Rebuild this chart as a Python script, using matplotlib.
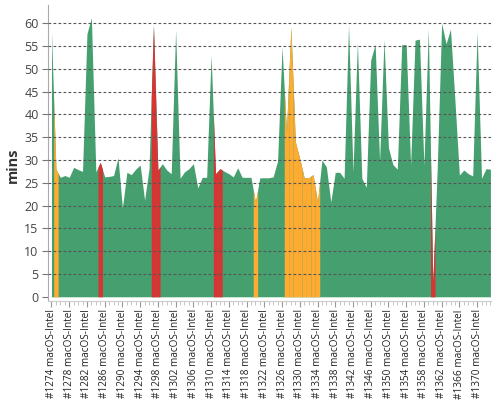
import numpy as np
import matplotlib
matplotlib.use("Agg")
import matplotlib.pyplot as plt

plt.rcParams['font.family'] = ['Open Sans', 'DejaVu Sans']

first_build = 1274
durations = [58, 28, 26.2, 26.6, 26.2, 28.4, 27.9, 27.5, 57.7, 61.2,
             27.4, 29.5, 26.3, 26.4, 26.6, 30.5, 19.5, 27.3, 26.8, 28,
             28.9, 21.2, 28.1, 59.6, 27.8, 29.2, 27.8, 27, 58.5, 26,
             27.4, 28.1, 29.2, 23.9, 26.2, 26.2, 53, 27, 28.1, 27.5,
             27, 26.3, 28.3, 26.2, 26.2, 26.2, 20.8, 26.1, 26.1, 26.1,
             26.3, 29.8, 54.8, 36.2, 59.2, 34, 30.3, 26.1, 26.1, 26.8,
             20.8, 30, 28.5, 20.8, 27.3, 27.3, 26, 59.6, 27.4, 55.8,
             26, 24, 51.9, 55.4, 29.8, 56.4, 32.7, 29, 28, 55.3,
             55.3, 28.9, 56.3, 56.5, 28.8, 58.8, 3, 28, 60, 55.5,
             58.7, 43, 26.7, 27.8, 27, 26.5, 58.1, 26, 28.1, 28]
failed_idx = [11, 23, 24, 37, 38, 86]
unstable_idx = [1, 46, 53, 54, 55, 56, 57, 58, 59, 60]

builds = [first_build + i for i in range(len(durations))]
labels = [f"#{b} macOS-Intel" for b in builds]

GREEN = "#469f6e"
RED = "#d83434"
ORANGE = "#feab32"

x = np.arange(len(durations), dtype=float)
y = np.array(durations, dtype=float)

fig = plt.figure(figsize=(5, 4), dpi=100)
ax = fig.add_axes([0.0966, 0.248, 0.886, 0.7395])

ax.fill_between(x, y, 0, color=GREEN, linewidth=0, zorder=1)

def band(idx, color):
    a, b = idx - 0.5, idx + 0.5
    xs = np.concatenate(([a], x[(x > a) & (x < b)], [b]))
    xs = np.clip(xs, 0, x[-1])
    ys = np.interp(xs, x, y)
    ax.fill_between(xs, ys, 0, color=color, linewidth=0, zorder=2)

for i in failed_idx:
    band(i, RED)
for i in unstable_idx:
    band(i, ORANGE)

ax.set_xlim(-0.72, 99.2)
ax.set_ylim(-0.88, 64)

ax.set_yticks(np.arange(0, 61, 5))
ax.tick_params(axis='y', length=4, color='#777777', labelsize=9, labelcolor='#444444', pad=3)
for v in np.arange(5, 61, 5):
    ax.axhline(v, color='#555555', lw=0.8, ls=(0, (2.5, 2)), zorder=3)

ax.set_xticks(x[::4])
ax.set_xticks(x, minor=True)
ax.set_xticklabels(labels[::4], rotation=90, fontsize=7.2, color='#222222')
ax.tick_params(axis='x', which='major', length=4, color='#999999', pad=2)
ax.tick_params(axis='x', which='minor', length=3, color='#bbbbbb')

for s in ['top', 'right']:
    ax.spines[s].set_visible(False)
ax.spines['left'].set_color('#aaaaaa')
ax.spines['bottom'].set_color('#cccccc')

ax.set_ylabel('mins', fontsize=10.5, fontweight='bold', color='#333333')
ax.yaxis.set_label_coords(-0.064, 0.459)

fig.savefig('out.png', dpi=100)
